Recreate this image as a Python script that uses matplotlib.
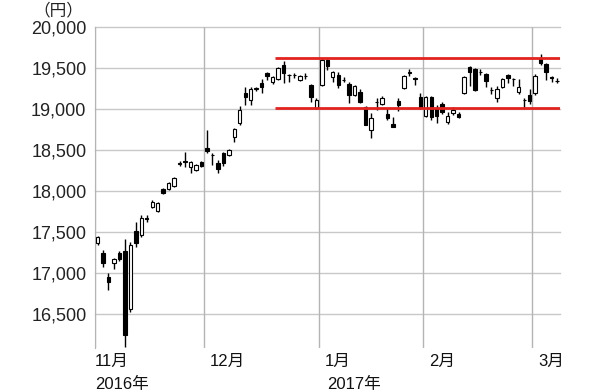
import numpy as np
import matplotlib
matplotlib.use('Agg')
import matplotlib.pyplot as plt
import matplotlib.transforms as mtransforms

# daily candles, 2016-11-01 .. 2017-03-07 (trading days only)
opens = [17366, 17244, 16951, 17122, 17244, 17268, 16561, 17512, 17463, 17675,
         17805, 17756, 18024, 18024, 18061, 18335, 18360, 18293, 18256, 18354,
         18524, 18445, 18341, 18463, 18439, 18659, 18829, 19195, 19110, 19250,
         19317, 19439, 19329, 19366, 19537, 19420, 19410, 19354, 19400, 19293,
         19012, 19293, 19598, 19390, 19415, 19350, 19305, 19171, 19207, 19024,
         18744, 19080, 19061, 18939, 18817, 19098, 19256, 19445, 19380, 19146,
         18915, 19146, 19012, 19061, 18841, 18951, 18939, 19195, 19512, 19488,
         19455, 19427, 19228, 19134, 19268, 19415, 19370, 19207, 19105, 19171,
         19195, 19622, 19549, 19390, 19338]
highs = [17450, 17280, 17000, 17183, 17268, 17415, 17378, 17622, 17707, 17707,
         17890, 17866, 18040, 18110, 18175, 18370, 18476, 18366, 18330, 18370,
         18744, 18463, 18378, 18476, 18510, 18770, 19037, 19268, 19268, 19268,
         19366, 19450, 19400, 19510, 19585, 19430, 19440, 19415, 19440, 19310,
         19134, 19620, 19615, 19460, 19451, 19390, 19329, 19290, 19250, 19037,
         18951, 19134, 19160, 19012, 18900, 19134, 19415, 19488, 19390, 19195,
         19160, 19160, 19049, 19080, 18963, 19024, 18960, 19400, 19524, 19500,
         19488, 19440, 19268, 19280, 19378, 19425, 19378, 19366, 19134, 19244,
         19430, 19671, 19561, 19400, 19378]
lows = [17340, 17073, 16793, 17049, 17146, 16098, 16530, 17317, 17440, 17622,
        17793, 17744, 17960, 18010, 18050, 18300, 18293, 18220, 18240, 18290,
        18470, 18317, 18220, 18300, 18430, 18598, 18800, 19049, 19049, 19220,
        19195, 19354, 19300, 19354, 19317, 19329, 19380, 19340, 19370, 19085,
        19000, 19280, 19480, 19329, 19256, 19329, 19073, 19160, 19073, 18805,
        18646, 18988, 19049, 18866, 18780, 18975, 19240, 19402, 19293, 19000,
        18900, 18866, 18829, 18939, 18817, 18930, 18890, 19180, 19280, 19220,
        19415, 19268, 19183, 19085, 19256, 19317, 19280, 19183, 19000, 19061,
        19171, 19540, 19354, 19329, 19317]
closes = [17439, 17122, 16890, 17171, 17171, 16244, 17341, 17366, 17671, 17665,
          17866, 17854, 17976, 18097, 18159, 18345, 18370, 18354, 18317, 18305,
          18488, 18435, 18268, 18341, 18500, 18756, 18988, 19146, 19244, 19262,
          19268, 19402, 19390, 19500, 19439, 19412, 19418, 19402, 19405, 19146,
          19110, 19598, 19524, 19451, 19293, 19358, 19171, 19280, 19085, 18805,
          18890, 19090, 19134, 18890, 18780, 19049, 19402, 19455, 19372, 19024,
          19146, 18902, 18915, 18963, 18915, 18988, 18902, 19390, 19451, 19232,
          19447, 19341, 19236, 19244, 19366, 19378, 19362, 19268, 19112, 19098,
          19402, 19561, 19451, 19378, 19346]

month_start = [0, 20, 41, 60, 80]
month_labels = ['11月', '12月', '1月', '2月', '3月']
year_labels = {0: '2016年', 2: '2017年'}
yticks = [16500, 17000, 17500, 18000, 18500, 19000, 19500, 20000]
range_top = 19620
range_bottom = 19010
range_from = 32.4

fam = ['Liberation Sans', 'Noto Sans CJK JP']
plt.rcParams['font.family'] = fam

o = np.array(opens)
h = np.array(highs)
l = np.array(lows)
c = np.array(closes)
x = np.arange(len(o))

fig = plt.figure(figsize=(6, 3.92), dpi=100)
ax = fig.add_axes([0.158, 0.112, 0.775, 0.819])

# grid
for v in yticks:
    ax.axhline(v, color='#c8c8c8', lw=1, zorder=0, clip_on=False)
for m in month_start:
    ax.axvline(m - 0.5, color='#b4b4b4', lw=1, zorder=0)

# candles
ax.vlines(x, l, h, color='black', lw=1, zorder=2)
up = c >= o
body_lo = np.minimum(o, c)
body_h = np.maximum(np.abs(c - o), 4)
ax.bar(x, body_h, bottom=body_lo, width=0.62,
       color=np.where(up, 'white', 'black'), edgecolor='black', lw=0.8, zorder=3)

# range lines
ax.hlines([range_top, range_bottom], range_from, len(o) - 0.5,
          color='#e3231f', lw=2.0, zorder=4)

ax.set_xlim(-0.5, len(o) - 0.5)
ax.set_ylim(16085, 20000)
ax.set_yticks(yticks)
ax.set_yticklabels([f'{v:,}' for v in yticks])
ax.tick_params(axis='y', length=0, pad=6, labelsize=13, colors='#222222')
ax.set_xticks([])
for s in ['top', 'right', 'bottom']:
    ax.spines[s].set_visible(False)
ax.spines['left'].set_color('#b4b4b4')

trans = mtransforms.blended_transform_factory(ax.transData, ax.transAxes)
for i, (m, lab) in enumerate(zip(month_start, month_labels)):
    xp = -0.5 if i == 0 else m + 0.6
    ax.text(xp, -0.04, lab, transform=trans, ha='left', va='center',
            fontsize=12, color='#111111', family=fam)
    if i in year_labels:
        xp2 = -0.5 if i == 0 else m + 1.0
        ax.text(xp2, -0.112, year_labels[i], transform=trans, ha='left', va='center',
                fontsize=12, color='#111111', family=fam)

fig.text(0.097, 0.972, '（円）', ha='center', va='center', fontsize=12,
         color='#222222', family=['Noto Sans CJK JP'])

fig.savefig('out.png', dpi=100)
